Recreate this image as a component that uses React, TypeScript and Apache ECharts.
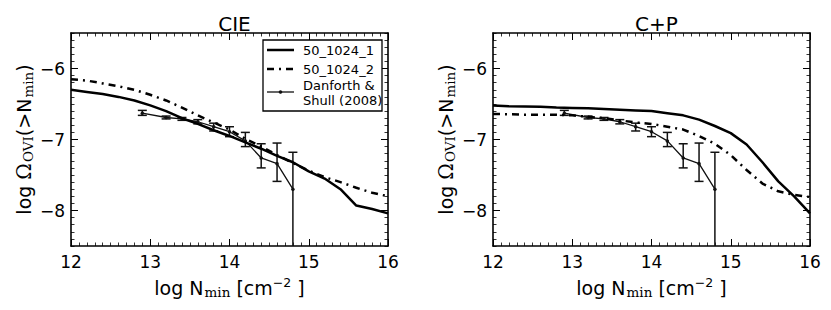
import React, { useEffect, useRef } from 'react';
import * as echarts from 'echarts';

// ---- data ----
const panelTitles = ['CIE', 'C+P'];
const seriesNames = ['50_1024_1', '50_1024_2', 'Danforth & Shull (2008)'];
const legendLines = ['50_1024_1', '50_1024_2', 'Danforth &', 'Shull (2008)'];

const yTicks = [-8, -7, -6];

const modelX = [12.0, 12.2, 12.4, 12.6, 12.8, 13.0, 13.2, 13.4, 13.6, 13.8, 14.0, 14.2, 14.4, 14.6, 14.8, 15.0, 15.2, 15.4, 15.6, 15.8, 16.0];
// CIE panel
const cie1 = [-6.30, -6.33, -6.36, -6.40, -6.45, -6.52, -6.60, -6.70, -6.78, -6.87, -6.95, -7.04, -7.13, -7.23, -7.32, -7.45, -7.55, -7.70, -7.93, -7.98, -8.04];
const cie2 = [-6.15, -6.17, -6.21, -6.25, -6.30, -6.37, -6.45, -6.55, -6.66, -6.76, -6.86, -6.99, -7.10, -7.22, -7.33, -7.44, -7.53, -7.60, -7.68, -7.75, -7.80];
// C+P panel
const cp1 = [-6.52, -6.53, -6.535, -6.54, -6.55, -6.555, -6.56, -6.57, -6.58, -6.59, -6.60, -6.63, -6.66, -6.72, -6.81, -6.91, -7.07, -7.32, -7.59, -7.80, -8.04];
const cp2 = [-6.64, -6.645, -6.65, -6.65, -6.65, -6.66, -6.68, -6.70, -6.73, -6.76, -6.78, -6.82, -6.86, -6.95, -7.06, -7.22, -7.43, -7.62, -7.73, -7.78, -7.81];
// Danforth & Shull (2008)
const obsX = [12.9, 13.2, 13.4, 13.6, 13.8, 14.0, 14.2, 14.4, 14.6, 14.8];
const obsY = [-6.63, -6.69, -6.71, -6.75, -6.82, -6.89, -7.02, -7.26, -7.34, -7.70];
const obsHi = [-6.59, -6.67, -6.69, -6.72, -6.77, -6.82, -6.90, -7.06, -7.05, -7.18];
const obsLo = [-6.66, -6.71, -6.73, -6.78, -6.88, -6.96, -7.10, -7.40, -7.59, -9.00];

const xRange = [12, 16];
const yRange = [-8.5, -5.5];

const FONT = "'DejaVu Sans', 'Liberation Sans', sans-serif";
const SERIF = "'DejaVu Serif', 'Liberation Serif', serif";
const BLACK = '#000';
const DASHDOT = [7, 5, 2, 5];

function pairs(xs: number[], ys: number[]) {
  return xs.map((x, i) => [x, ys[i]]);
}

export default function App() {
  const ref = useRef<HTMLDivElement>(null);
  useEffect(() => {
    const chart = echarts.init(ref.current!, null, { renderer: 'svg' });

    const grids = [
      { left: 71, top: 33, width: 317, height: 213 },
      { left: 493, top: 33, width: 317, height: 213 },
    ];

    const axisLine = { show: true, onZero: false, lineStyle: { color: BLACK, width: 1.6 } };

    const xName = '{a|log N}{s|min}{a| [cm}{p|−2}{a| ]}';
    const yName = '{a|log }{o|Ω}{s|OVI}{a|(>N}{s|min}{a|)}';
    const nameRich = {
      a: { fontSize: 19, fontFamily: FONT, color: BLACK },
      o: { fontSize: 20, fontFamily: SERIF, color: BLACK },
      s: { fontSize: 13.5, fontFamily: SERIF, color: BLACK, padding: [9, 0, 0, 1] },
      p: { fontSize: 12.5, fontFamily: FONT, color: BLACK, padding: [0, 0, 10, 0] },
    };

    const xAxis: any[] = [];
    const yAxis: any[] = [];
    grids.forEach((_, gi) => {
      const xBase = {
        type: 'value', gridIndex: gi, min: xRange[0], max: xRange[1], interval: 1,
        axisLine,
        axisTick: { show: true, inside: true, length: 7, lineStyle: { color: BLACK, width: 1 } },
        minorTick: { show: true, splitNumber: 10, length: 3.5, lineStyle: { color: BLACK, width: 0.8 } },
        splitLine: { show: false }, minorSplitLine: { show: false },
      };
      xAxis.push({
        ...xBase, position: 'bottom',
        axisLabel: { show: true, color: BLACK, fontSize: 17, fontFamily: FONT, margin: 7 },
        name: xName, nameLocation: 'middle', nameGap: 30,
        nameTextStyle: { color: BLACK, fontSize: 19, fontFamily: FONT, rich: nameRich },
      });
      xAxis.push({ ...xBase, position: 'top', axisLabel: { show: false } });

      const yMajor = {
        type: 'value', gridIndex: gi, min: yRange[0], max: yRange[1],
        axisLine,
        axisTick: { show: true, inside: true, length: 7, customValues: yTicks, lineStyle: { color: BLACK, width: 1 } },
        splitLine: { show: false },
      };
      const yMinor = {
        type: 'value', gridIndex: gi, min: yRange[0], max: yRange[1], interval: 0.1,
        axisLine: { show: false },
        axisTick: { show: true, inside: true, length: 3.5, lineStyle: { color: BLACK, width: 0.8 } },
        axisLabel: { show: false },
        splitLine: { show: false },
      };
      yAxis.push({
        ...yMajor, position: 'left',
        axisLabel: {
          show: true, color: BLACK, fontSize: 17, fontFamily: FONT, margin: 6,
          customValues: yTicks,
          formatter: (v: number) => (v < 0 ? '−' : '') + Math.abs(v),
        },
        name: yName, nameLocation: 'middle', nameGap: 36,
        nameTextStyle: { color: BLACK, fontSize: 19, fontFamily: FONT, rich: nameRich },
      });
      yAxis.push({ ...yMajor, position: 'right', axisLabel: { show: false } });
      yAxis.push({ ...yMinor, position: 'left' });
      yAxis.push({ ...yMinor, position: 'right' });
    });

    const series: any[] = [];
    const panels = [
      { m1: cie1, m2: cie2 },
      { m1: cp1, m2: cp2 },
    ];
    panels.forEach((p, gi) => {
      const xi = gi * 2;
      const yi = gi * 4;
      series.push({
        type: 'custom', name: seriesNames[2] + ' err', xAxisIndex: xi, yAxisIndex: yi, clip: true, z: 2,
        data: obsX.map((x, i) => [x, obsLo[i], obsHi[i]]),
        renderItem: (_params: any, api: any) => {
          const x = api.value(0);
          const lo = api.coord([x, api.value(1)]);
          const hi = api.coord([x, api.value(2)]);
          const cw = 4.5;
          const st = { stroke: '#111', lineWidth: 1.5 };
          return {
            type: 'group',
            children: [
              { type: 'line', shape: { x1: lo[0], y1: lo[1], x2: hi[0], y2: hi[1] }, style: st },
              { type: 'line', shape: { x1: hi[0] - cw, y1: hi[1], x2: hi[0] + cw, y2: hi[1] }, style: st },
              { type: 'line', shape: { x1: lo[0] - cw, y1: lo[1], x2: lo[0] + cw, y2: lo[1] }, style: st },
            ],
          };
        },
      });
      series.push({
        type: 'line', name: seriesNames[2], xAxisIndex: xi, yAxisIndex: yi, z: 3,
        data: pairs(obsX, obsY), symbol: 'circle', symbolSize: 3.5, showSymbol: true,
        itemStyle: { color: '#111' }, lineStyle: { color: '#111', width: 1.3 },
      });
      series.push({
        type: 'line', name: seriesNames[0], xAxisIndex: xi, yAxisIndex: yi, z: 4,
        data: pairs(modelX, p.m1), symbol: 'none',
        lineStyle: { color: BLACK, width: 2.5 },
      });
      series.push({
        type: 'line', name: seriesNames[1], xAxisIndex: xi, yAxisIndex: yi, z: 4,
        data: pairs(modelX, p.m2), symbol: 'none',
        lineStyle: { color: BLACK, width: 2.5, type: DASHDOT, cap: 'butt' },
      });
    });

    // legend drawn in the CIE panel
    const lg = { x: 263, y: 40, w: 119, h: 71 };
    const txt = (s: string, dy: number) => ({
      type: 'text', x: lg.x + 40, y: lg.y + dy, z: 11,
      style: { text: s, font: `13px ${FONT}`, fill: BLACK, verticalAlign: 'middle' },
    });
    const graphic: any[] = [
      { type: 'rect', shape: { x: lg.x, y: lg.y, width: lg.w, height: lg.h }, style: { fill: '#fff', stroke: BLACK, lineWidth: 1.3 }, z: 10 },
      { type: 'line', shape: { x1: lg.x + 4, y1: lg.y + 10, x2: lg.x + 31, y2: lg.y + 10 }, style: { stroke: BLACK, lineWidth: 2.5 }, z: 11 },
      { type: 'line', shape: { x1: lg.x + 4, y1: lg.y + 29, x2: lg.x + 31, y2: lg.y + 29 }, style: { stroke: BLACK, lineWidth: 2.5, lineDash: DASHDOT }, z: 11 },
      { type: 'line', shape: { x1: lg.x + 4, y1: lg.y + 52, x2: lg.x + 31, y2: lg.y + 52 }, style: { stroke: '#111', lineWidth: 1.3 }, z: 11 },
      { type: 'circle', shape: { cx: lg.x + 17.5, cy: lg.y + 52, r: 1.8 }, style: { fill: '#111' }, z: 11 },
      txt(legendLines[0], 10),
      txt(legendLines[1], 29),
      txt(legendLines[2], 45),
      txt(legendLines[3], 60),
    ];

    chart.setOption({
      animation: false,
      backgroundColor: '#fff',
      title: panelTitles.map((t, i) => ({
        text: t,
        left: grids[i].left + grids[i].width / 2,
        top: 9,
        textAlign: 'center',
        textStyle: { color: BLACK, fontSize: 20, fontWeight: 'normal', fontFamily: FONT },
      })),
      grid: grids,
      xAxis,
      yAxis,
      series,
      graphic,
    });
    return () => chart.dispose();
  }, []);
  return <div ref={ref} style={{ position: 'absolute', left: 0, top: 0, width: 831, height: 310 }} />;
}
